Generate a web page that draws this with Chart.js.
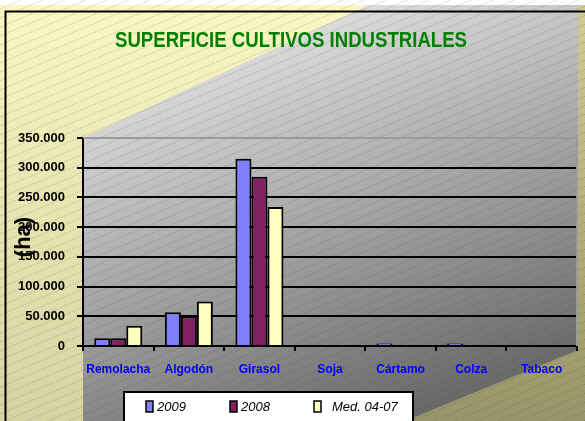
<!DOCTYPE html>
<html>
<head>
<meta charset="utf-8">
<script src="https://cdn.jsdelivr.net/npm/chart.js@4.4.1/dist/chart.umd.min.js"></script>
<style>
  html, body { margin: 0; padding: 0; background: #fff; }
  #wrap { width: 585px; height: 421px; position: relative; }
</style>
</head>
<body>
<div id="wrap"><canvas id="chart" width="585" height="421"></canvas></div>
<script>
// superficie de cultivos industriales (ha)
const CATEGORIES  = ['Remolacha', 'Algodón', 'Girasol', 'Soja', 'Cártamo', 'Colza', 'Tabaco'];
const SERIES_2009 = [13000, 57000, 315000, 0, 4000, 4000, 0];
const SERIES_2008 = [13000, 50000, 285000, 0, 0, 0, 0];
const SERIES_MED  = [34000, 75000, 234000, 0, 0, 0, 0];
const SERIES_NAMES = ['2009', '2008', 'Med. 04-07'];
const Y_MIN = 0, Y_MAX = 350000, Y_STEP = 50000;
const TITLE   = 'SUPERFICIE CULTIVOS INDUSTRIALES';
const Y_TITLE = '(ha)';

const COLORS = ['#8080FF', '#802060', '#FFFFC0'];
const FONT   = "'Liberation Sans', Arial, sans-serif";

function fmtThousands(v) {
  return String(v).replace(/\B(?=(\d{3})+(?!\d))/g, '.');
}

// fondo: triangulo amarillo, zona gris en degradado, esquina oliva + rayado
const backgroundPlugin = {
  id: 'background',
  beforeDraw(chart) {
    const { ctx, width, height } = chart;
    ctx.save();
    ctx.fillStyle = '#fff';
    ctx.fillRect(0, 0, width, height);

    let g = ctx.createLinearGradient(0, 5, 0, height);
    g.addColorStop(0, '#FBF7C2');
    g.addColorStop(1, '#D6D2A2');
    ctx.fillStyle = g;
    ctx.fillRect(0, 5, width, height - 5);

    g = ctx.createLinearGradient(250, 0, 400, height);
    g.addColorStop(0, '#E8E8E8');
    g.addColorStop(1, '#686868');
    ctx.fillStyle = g;
    ctx.beginPath();
    ctx.moveTo(368, 5);
    ctx.lineTo(width, 5);
    ctx.lineTo(width, height);
    ctx.lineTo(83, height);
    ctx.lineTo(83, 138);
    ctx.closePath();
    ctx.fill();

    g = ctx.createLinearGradient(0, 10, 0, height);
    g.addColorStop(0, '#CFCB96');
    g.addColorStop(1, '#98956A');
    ctx.fillStyle = g;
    ctx.beginPath();
    ctx.moveTo(578, 5);
    ctx.lineTo(width, 5);
    ctx.lineTo(width, height);
    ctx.lineTo(405, height);
    ctx.lineTo(578, 350);
    ctx.closePath();
    ctx.fill();

    // rayado diagonal
    ctx.strokeStyle = 'rgba(60,60,40,0.25)';
    ctx.lineWidth = 0.8;
    ctx.setLineDash([2, 1]);
    const slope = 0.42;
    for (let k = 0; k < height + width * slope + 10; k += 9) {
      ctx.beginPath();
      ctx.moveTo(0, k);
      ctx.lineTo(width, k - width * slope);
      ctx.stroke();
    }
    ctx.setLineDash([]);

    // marco exterior
    ctx.strokeStyle = '#000';
    ctx.lineWidth = 2;
    ctx.beginPath();
    ctx.moveTo(width, 11.5);
    ctx.lineTo(5.5, 11.5);
    ctx.lineTo(5.5, height);
    ctx.stroke();
    ctx.restore();
  },
  afterDraw(chart) {
    const { ctx, chartArea: a } = chart;
    ctx.save();
    // borde superior y derecho del area de trazado
    ctx.strokeStyle = '#9A9A9A';
    ctx.lineWidth = 2;
    ctx.beginPath();
    ctx.moveTo(a.left, a.top);
    ctx.lineTo(a.right, a.top);
    ctx.lineTo(a.right, a.bottom);
    ctx.stroke();

    // titulo
    ctx.fillStyle = '#008000';
    ctx.font = `bold 22px ${FONT}`;
    ctx.textBaseline = 'middle';
    ctx.textAlign = 'center';
    const w = ctx.measureText(TITLE).width;
    ctx.save();
    ctx.translate(291, 41);
    ctx.scale(352 / w, 1);
    ctx.fillText(TITLE, 0, 0);
    ctx.restore();

    // titulo eje Y
    ctx.save();
    ctx.translate(24, 237);
    ctx.rotate(-Math.PI / 2);
    ctx.fillStyle = '#000';
    ctx.font = `bold 22px ${FONT}`;
    ctx.fillText(Y_TITLE, 0, 0);
    ctx.restore();

    // leyenda
    ctx.fillStyle = '#fff';
    ctx.fillRect(124, 392, 289, 40);
    ctx.strokeStyle = '#000';
    ctx.lineWidth = 2;
    ctx.strokeRect(124, 392, 289, 40);
    const xs = [146, 230, 314];
    ctx.font = `italic 13px ${FONT}`;
    ctx.textAlign = 'left';
    chart.data.datasets.forEach((ds, i) => {
      ctx.fillStyle = ds.backgroundColor;
      ctx.fillRect(xs[i], 401, 7, 11);
      ctx.lineWidth = 1.5;
      ctx.strokeRect(xs[i], 401, 7, 11);
      ctx.fillStyle = '#000';
      ctx.fillText(ds.label, xs[i] + (i === 2 ? 18 : 11), 407);
    });
    ctx.restore();
  },
};

const datasets = [SERIES_2009, SERIES_2008, SERIES_MED].map((data, i) => ({
  label: SERIES_NAMES[i],
  data,
  backgroundColor: COLORS[i],
  borderColor: '#000',
  borderWidth: 2,
  categoryPercentage: 0.68,
  barPercentage: 1,
}));

new Chart(document.getElementById('chart'), {
  type: 'bar',
  data: { labels: CATEGORIES, datasets },
  options: {
    responsive: false,
    devicePixelRatio: 1,
    animation: false,
    layout: { padding: { top: 138, right: 8, left: 0, bottom: 0 } },
    plugins: { legend: { display: false }, tooltip: { enabled: false } },
    scales: {
      x: {
        afterFit(s) { s.height = 75; },
        grid: { offset: true, drawOnChartArea: false, drawTicks: true, tickLength: 5, tickColor: '#000', lineWidth: 2 },
        border: { color: '#000', width: 2 },
        ticks: {
          color: '#0000FF',
          font: { family: FONT, size: 12, weight: 'bold' },
          padding: 11,
          maxRotation: 0,
          autoSkip: false,
        },
      },
      y: {
        min: Y_MIN,
        max: Y_MAX,
        afterFit(s) { s.width = 83; },
        grid: {
          color: c => (c.tick && c.tick.value === Y_MAX ? 'rgba(0,0,0,0)' : '#000'),
          tickColor: '#000',
          lineWidth: 2,
          tickLength: 6,
        },
        border: { color: '#000', width: 2 },
        ticks: {
          stepSize: Y_STEP,
          color: '#000',
          padding: 12,
          font: { family: FONT, size: 13, weight: 'bold' },
          callback: v => fmtThousands(v),
        },
      },
    },
  },
  plugins: [backgroundPlugin],
});
</script>
</body>
</html>
